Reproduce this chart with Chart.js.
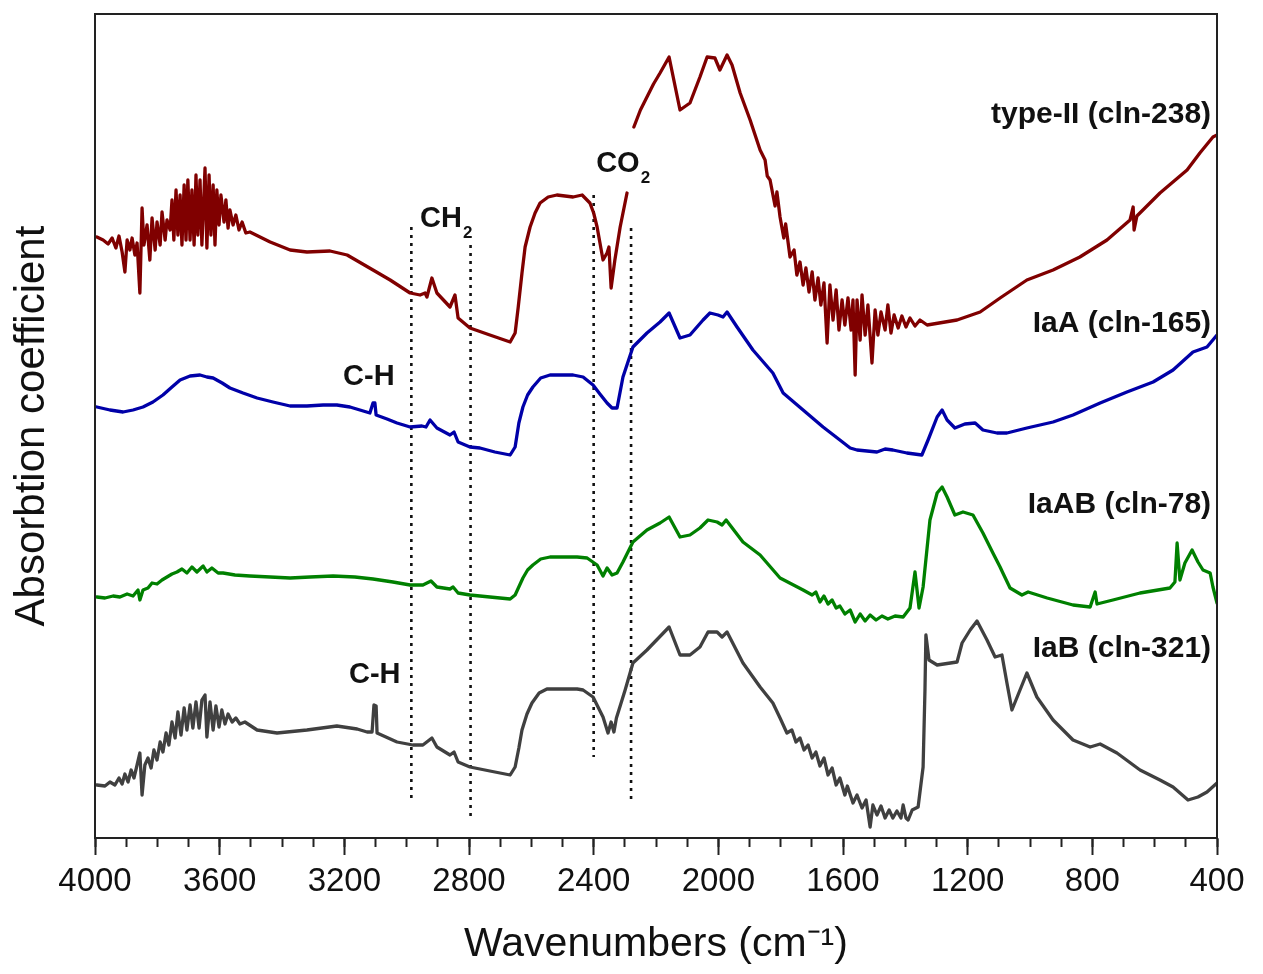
<!DOCTYPE html>
<html>
<head>
<meta charset="utf-8">
<script src="https://cdn.jsdelivr.net/npm/chart.js@4.4.1/dist/chart.umd.min.js"></script>
<style>
  html, body { margin: 0; padding: 0; background: #fff; }
  #wrap { width: 1263px; height: 974px; }
</style>
</head>
<body>
<div id="wrap"><canvas id="ftir" width="1263" height="974"></canvas></div>
<script>
/* FTIR absorption spectra of four diamond samples, offset vertically (arbitrary units) */

// type-II (cln-238)
const typeIIWn = [3994,3974,3958,3945,3933,3923,3913,3904,3897,3888,3881,3872,3865,3856,3849,3843,3833,3824,3817,3807,
  3801,3791,3785,3775,3769,3759,3753,3747,3740,3734,3727,3721,3714,3708,3702,3695,3689,3682,3676,3670,
  3663,3657,3647,3641,3634,3628,3621,3615,3609,3602,3596,3586,3580,3573,3567,3557,3548,3538,3528,3516,
  3503,3438,3374,3320,3246,3191,3108,3053,2989,2957,2941,2935,2919,2903,2861,2845,2835,2797,2733,2668,
  2652,2642,2630,2620,2604,2588,2572,2546,2518,2466,2437,2412,2400,2389,2370,2357,2351,2344,2332,2315,2293,2290,
  2271,2250,2229,2208,2187,
  2158,2123,2091,2059,2036,2011,1995,1972,1956,1930,1898,1866,1850,1843,1834,1818,1812,1802,1790,1784,1770,1757,1748,1738,1728,1719,
  1709,1699,1690,1680,1671,1661,1651,1642,1632,1622,1613,1603,1594,1584,1574,1568,1561,1555,1545,1539,
  1529,1520,1507,1497,1488,1478,1465,1456,1446,1436,1423,1411,1398,1385,1369,1353,1330,1234,1160,1096,
  1010,926,840,753,679,669,666,657,583,496,455,413,400];
const typeIIAbs = [60.1,59.8,59.4,60.0,59.0,60.2,58.6,56.6,59.8,58.8,60.0,58.3,59.5,54.5,63.0,59.3,61.3,57.8,62.0,58.8,
  61.6,59.3,62.6,59.8,61.8,60.8,63.8,59.8,64.8,60.3,64.3,59.3,65.3,59.8,65.8,59.8,64.8,59.3,66.3,60.3,
  65.8,59.3,67.0,59.0,66.3,60.3,65.3,59.3,64.8,61.3,64.3,61.6,63.8,61.0,62.8,61.3,62.3,60.8,61.6,60.5,
  60.6,59.6,58.8,58.6,58.7,58.3,56.8,55.8,54.5,54.3,54.5,54.1,56.0,54.5,53.1,54.3,52.0,51.0,50.3,49.6,
  50.5,53.1,56.5,59.1,61.1,62.5,63.5,64.1,64.3,64.1,64.3,63.5,62.5,61.1,57.8,58.5,59.1,55.0,57.8,61.1,64.5,null,
  71.1,72.8,74.1,75.4,76.5,
  78.1,72.8,73.5,76.1,78.1,78.0,76.8,78.3,77.3,74.5,71.8,68.8,67.8,66.2,65.8,63.2,64.6,62.1,60.0,61.4,58.1,58.8,56.3,57.6,55.3,57.0,
  54.6,56.6,53.8,56.0,53.3,55.5,49.5,55.3,51.8,54.8,50.8,53.8,51.3,54.0,50.8,53.8,46.3,53.8,49.8,54.3,
  50.3,53.3,47.5,52.8,50.3,52.6,50.8,53.3,50.5,52.3,51.0,52.2,51.1,52.0,51.2,51.8,51.3,51.8,52.6,54.0,
  55.8,56.8,58.1,59.8,61.8,63.1,60.8,62.2,64.5,66.8,68.5,70.1,70.3];

// IaA (cln-165)
const iaAWn = [3994,3952,3910,3878,3846,3814,3782,3753,3727,3695,3663,3641,3621,3592,3567,3525,3480,3429,3374,3320,
  3268,3224,3182,3150,3118,3108,3102,3098,3063,3031,2989,2951,2938,2925,2903,2861,2848,2835,2797,2765,
  2717,2668,2652,2640,2627,2612,2595,2570,2540,2466,2434,2402,2380,2357,2341,2325,2306,2274,2229,2187,2158,2123,2091,
  2049,2027,2001,1985,1972,1940,1889,1825,1792,1728,1664,1610,1577,1555,1523,1491,1465,1440,1395,1347,
  1327,1298,1282,1266,1241,1209,1176,1151,1106,1074,1010,926,862,775,689,605,541,477,432,400];
const iaAAbs = [43.1,42.8,42.6,42.8,43.1,43.6,44.3,45.1,45.8,46.2,46.3,46.1,46.0,45.5,45.0,44.5,44.0,43.6,43.2,43.2,
  43.3,43.3,43.1,42.8,42.5,43.5,43.5,42.3,41.9,41.5,41.1,41.2,41.1,41.8,41.0,40.3,40.6,39.6,39.1,39.0,
  38.6,38.3,39.1,41.5,43.1,44.3,45.1,46.0,46.3,46.3,46.1,45.3,44.4,43.5,43.0,43.0,46.1,49.1,50.5,51.6,52.5,50.0,50.3,
  51.8,52.5,52.3,52.1,52.6,51.1,48.8,46.5,44.5,42.8,41.1,39.8,39.0,38.8,38.7,38.6,38.9,38.8,38.5,38.3,
  39.8,42.1,42.8,41.8,41.0,41.4,41.5,40.8,40.5,40.5,41.0,41.6,42.3,43.5,44.6,45.6,46.8,48.6,49.1,50.3];

// IaAB (cln-78)
const iaABWn = [3994,3968,3942,3920,3897,3878,3862,3856,3846,3830,3817,3801,3785,3769,3753,3737,3721,3705,3689,3673,
  3653,3641,3625,3605,3589,3551,3503,3438,3374,3310,3236,3166,3108,3044,2989,2948,2922,2903,2861,2851,
  2835,2797,2733,2668,2652,2627,2612,2595,2570,2540,2453,2421,2389,2370,2357,2341,2325,2306,2274,2229,2187,2158,
  2123,2091,2059,2033,2004,1988,1975,1921,1866,1802,1728,1699,1687,1674,1661,1648,1635,1622,1610,1594,
  1577,1561,1545,1529,1513,1494,1475,1456,1433,1407,1385,1369,1356,1343,1321,1298,1282,1266,1241,1215,
  1183,1151,1119,1096,1087,1064,1026,1006,945,862,807,791,785,734,647,551,535,528,519,503,
  480,461,445,422,413,400];
const iaABAbs = [24.1,24.0,24.2,24.1,24.4,24.2,24.8,23.8,24.8,25.0,25.5,25.4,25.8,26.1,26.4,26.6,26.9,26.5,27.1,26.6,
  27.2,26.6,27.0,26.5,26.5,26.3,26.2,26.1,26.0,26.1,26.2,26.1,25.9,25.6,25.3,25.3,25.7,25.1,24.9,25.1,
  24.5,24.3,24.1,23.9,24.3,26.0,26.8,27.3,27.9,28.1,28.1,28.0,27.3,26.2,27.0,26.3,26.5,27.6,29.6,30.8,31.5,32.1,
  30.1,30.3,31.0,31.8,31.6,31.3,31.8,29.6,28.3,26.0,24.8,24.3,24.6,23.6,24.2,23.4,23.8,23.0,23.2,22.4,
  22.8,21.6,22.4,21.7,22.3,21.8,22.2,21.9,22.2,22.1,23.0,26.6,23.0,25.1,31.8,34.5,35.1,34.1,32.3,32.6,
  32.3,30.5,28.5,27.1,26.5,25.0,24.3,24.6,24.0,23.3,23.1,24.6,23.4,23.8,24.5,25.0,25.6,29.5,25.8,27.5,
  28.8,27.6,26.8,26.5,25.1,23.5];

// IaB (cln-321)
const iaBWn = [3994,3968,3952,3936,3923,3913,3904,3894,3884,3875,3865,3856,3849,3840,3830,3820,3811,3801,3791,3782,
  3772,3763,3753,3743,3734,3724,3714,3705,3695,3686,3676,3666,3657,3647,3641,3631,3621,3612,3602,3593,
  3583,3573,3560,3548,3535,3519,3480,3416,3320,3224,3159,3127,3111,3105,3098,3095,3031,2980,2948,2919,
  2903,2861,2848,2835,2797,2733,2668,2652,2640,2630,2614,2598,2575,2550,2453,2434,2402,2370,2354,2344,2335,2327,2299,
  2274,2229,2158,2123,2091,2059,2033,2004,1988,1972,1921,1866,1825,1802,1780,1764,1751,1738,1725,1712,
  1699,1687,1674,1661,1648,1635,1622,1610,1594,1586,1568,1555,1539,1526,1513,1504,1491,1478,1465,1452,
  1440,1427,1414,1407,1398,1391,1378,1359,1343,1337,1334,1324,1298,1234,1218,1192,1170,1138,1112,1090,
  1074,1058,1010,978,926,862,807,775,721,647,583,541,493,461,432,400];
const iaBAbs = [5.3,5.2,5.6,5.3,6.0,5.4,6.4,5.6,6.8,6.0,7.3,8.5,4.3,7.3,8.0,7.0,8.8,7.8,9.6,8.6,
  10.5,9.3,11.6,10.0,12.6,10.3,13.0,10.8,13.3,11.0,13.6,11.0,13.8,14.3,10.1,13.6,10.8,13.2,11.1,12.8,
  11.4,12.4,11.6,12.0,11.4,11.6,10.8,10.5,10.8,11.2,10.9,10.6,10.6,13.3,13.2,10.5,9.6,9.3,9.3,10.0,
  9.1,8.3,8.6,7.6,7.1,6.7,6.3,7.1,9.0,10.8,12.4,13.5,14.5,14.9,14.9,14.8,14.1,12.1,10.5,11.6,10.6,12.0,14.8,
  17.5,18.8,21.1,18.3,18.3,19.1,20.6,20.6,20.1,20.6,17.5,15.1,13.5,12.0,10.5,10.8,9.6,10.0,8.8,9.3,
  8.0,8.6,7.2,8.0,6.3,7.0,5.3,6.0,4.3,5.2,3.5,4.3,3.0,3.8,1.1,3.3,2.3,3.2,2.0,2.8,
  2.0,2.7,2.0,3.3,2.0,1.8,2.8,3.1,7.1,14.8,20.3,17.8,17.3,17.6,19.5,20.8,21.7,19.8,18.1,18.3,
  15.5,12.8,16.5,14.1,11.8,9.8,9.1,9.4,8.5,6.8,5.8,5.1,3.8,4.1,4.6,5.5];

// dotted guide lines (CH2 and CO2 bands)
const guideWn = [2985, 2795, 2400, 2280];
const guideTop = [61.1, 59.3, 64.3, 61.0];
const guideBottom = [4.0, 2.0, 8.1, 3.8];

// sample labels, right aligned at the right edge of the plot
const sampleNames = ['type-II (cln-238)', 'IaA (cln-165)', 'IaAB (cln-78)', 'IaB (cln-321)'];
const sampleLabelY = [71.5, 50.6, 32.5, 18.1];
const sampleLabelWn = 419;

// band labels: text, subscript, left wavenumber, baseline value
const bandText = ['CH', 'CO', 'C-H', 'C-H'];
const bandSub = ['2', '2', '', ''];
const bandWn = [2957, 2392, 3204, 3185];
const bandY = [61.1, 66.6, 45.3, 15.5];

const FONT = '"Liberation Sans", Arial, Helvetica, sans-serif';
Chart.defaults.font.family = FONT;
Chart.defaults.color = '#111';

const pts = (wn, ab) => wn.map((w, i) => ({ x: w, y: ab[i] }));

const series = [
  { label: 'type-II (cln-238)', data: pts(typeIIWn, typeIIAbs), color: '#800000' },
  { label: 'IaA (cln-165)', data: pts(iaAWn, iaAAbs), color: '#0000a8' },
  { label: 'IaAB (cln-78)', data: pts(iaABWn, iaABAbs), color: '#008000' },
  { label: 'IaB (cln-321)', data: pts(iaBWn, iaBAbs), color: '#404040' }
];

const datasets = series.map(s => ({
  label: s.label,
  data: s.data,
  borderColor: s.color,
  borderWidth: 3.3,
  pointRadius: 0,
  tension: 0,
  spanGaps: false,
  borderJoinStyle: 'round',
  borderCapStyle: 'round'
}));

guideWn.forEach((w, i) => {
  datasets.push({
    label: 'guide' + i,
    data: [{ x: w, y: guideTop[i] }, { x: w, y: guideBottom[i] }],
    borderColor: '#111',
    borderWidth: 2.6,
    borderDash: [3, 5],
    pointRadius: 0
  });
});

const frame = {
  id: 'frame',
  afterDraw(chart) {
    const { ctx, chartArea: a } = chart;
    ctx.save();
    ctx.strokeStyle = '#222';
    ctx.lineWidth = 2;
    ctx.strokeRect(a.left, a.top, a.right - a.left, a.bottom - a.top);
    ctx.restore();
  }
};

const labels = {
  id: 'labels',
  afterDatasetsDraw(chart) {
    const { ctx, scales: { x, y } } = chart;
    ctx.save();
    ctx.fillStyle = '#111';
    ctx.textBaseline = 'alphabetic';

    ctx.font = 'bold 30px ' + FONT;
    ctx.textAlign = 'right';
    sampleNames.forEach((t, i) => {
      ctx.fillText(t, x.getPixelForValue(sampleLabelWn), y.getPixelForValue(sampleLabelY[i]));
    });

    ctx.textAlign = 'left';
    bandText.forEach((t, i) => {
      const px = x.getPixelForValue(bandWn[i]);
      const py = y.getPixelForValue(bandY[i]);
      ctx.font = 'bold 29px ' + FONT;
      ctx.fillText(t, px, py);
      if (bandSub[i]) {
        const w = ctx.measureText(t).width;
        ctx.font = 'bold 17px ' + FONT;
        ctx.fillText(bandSub[i], px + w + 1, py + 11);
      }
    });
    ctx.restore();
  }
};

new Chart(document.getElementById('ftir'), {
  type: 'line',
  data: { datasets },
  plugins: [frame, labels],
  options: {
    responsive: false,
    animation: false,
    layout: { padding: { top: 14, right: 46, left: 0, bottom: 0 } },
    plugins: { legend: { display: false }, tooltip: { enabled: false } },
    scales: {
      x: {
        type: 'linear',
        position: 'bottom',
        weight: 10,
        min: 400,
        max: 4000,
        reverse: true,
        ticks: { stepSize: 400, font: { size: 33 }, color: '#111', padding: 7, maxRotation: 0, autoSkip: false,
          callback: v => String(v) },
        grid: { drawOnChartArea: false, tickLength: 17, tickWidth: 2, tickColor: '#222' },
        border: { color: '#222', width: 2 },
        title: { display: true, text: 'Wavenumbers (cm\u207B\u00B9)', font: { size: 41 }, color: '#111', padding: { top: 0, bottom: 5 } },
        afterFit(scale) { scale.height = 136; }
      },
      xMinor: {
        type: 'linear',
        position: 'bottom',
        weight: 0,
        min: 400,
        max: 4000,
        reverse: true,
        ticks: { stepSize: 100, display: false },
        grid: { drawOnChartArea: false, tickLength: 9, tickWidth: 2, tickColor: '#222' },
        border: { display: false },
        afterFit(scale) { scale.height = 0; }
      },
      y: {
        min: 0,
        max: 82.4,
        ticks: { display: false },
        grid: { display: false },
        border: { color: '#222', width: 2 },
        title: { display: true, text: 'Absorbtion coefficient', font: { size: 42 }, color: '#111', padding: { top: 7, bottom: 0 } },
        afterFit(scale) { scale.width = 95; }
      }
    }
  }
});
</script>
</body>
</html>
